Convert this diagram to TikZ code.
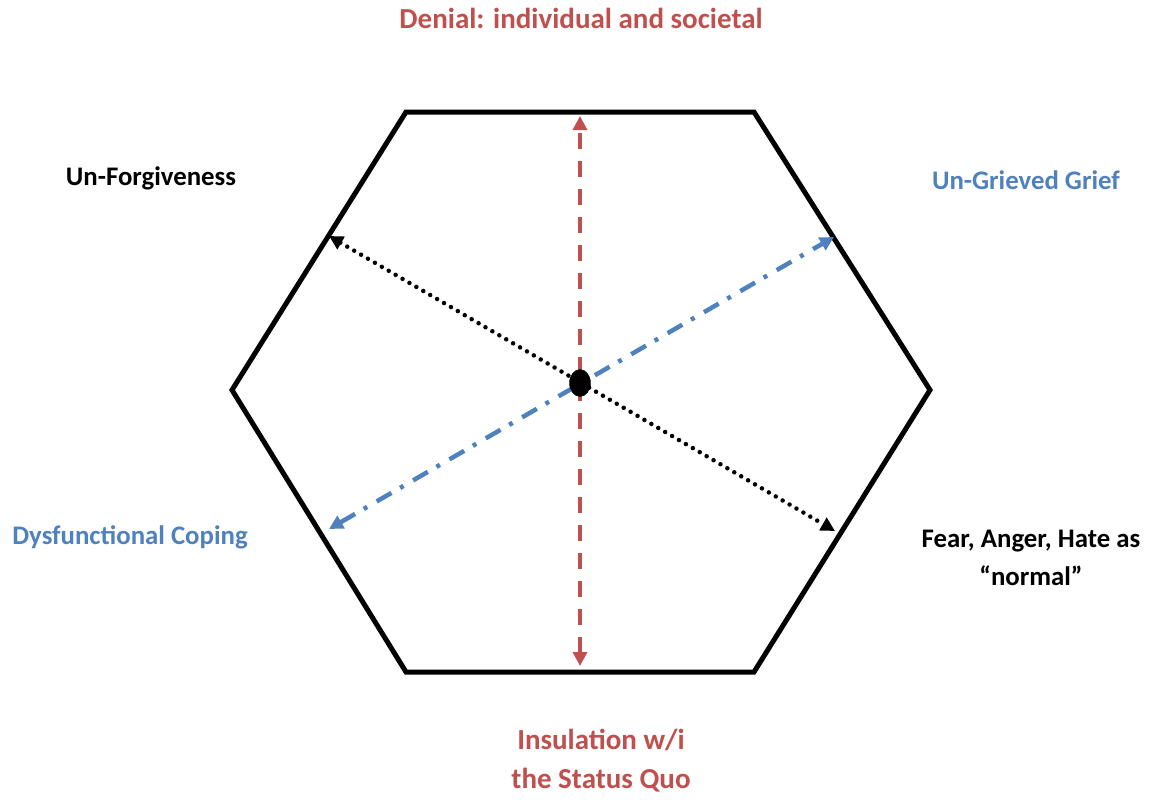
\documentclass[tikz,border=0pt]{standalone}
\usepackage{fontspec}
\setmainfont{Carlito}
\usetikzlibrary{arrows.meta,shapes.geometric}
\definecolor{ored}{HTML}{C0504D}
\definecolor{oblue}{HTML}{4F81BD}
\tikzset{
  lbl/.style={font=\bfseries\fontsize{29}{39}\selectfont, inner sep=0pt, align=center},
  slbl/.style={font=\bfseries\fontsize{26.8}{38}\selectfont, inner sep=0pt, align=center},
  hexline/.style={line width=5pt, line join=miter},
  ttip/.style={{Triangle[length=14pt,width=14pt]}-{Triangle[length=14pt,width=14pt]}}
}
\begin{document}
\begin{tikzpicture}[x=1pt,y=-1pt]
\useasboundingbox (0,0) rectangle (1152,800);
\coordinate (v1) at (406,112);
\coordinate (v2) at (754,112);
\coordinate (v3) at (930,390);
\coordinate (v4) at (754,672);
\coordinate (v5) at (406,672);
\coordinate (v6) at (232,390);
\draw[hexline] (v1) -- (v2) -- (v3) -- (v4) -- (v5) -- (v6) -- cycle;
\coordinate (c) at (580,383);
\coordinate (rt) at (580,116);
\coordinate (rb) at (580,666);
\coordinate (bl1) at (329,236);
\coordinate (bl2) at (835,531);
\coordinate (bu1) at (329,529);
\coordinate (bu2) at (834,237);
\draw[ored, line width=4.5pt, dash pattern=on 16pt off 12pt, ttip] (rb) -- (rt);
\draw[black, line width=4.5pt, dash pattern=on 0pt off 8pt, line cap=round, ttip] (bl1) -- (bl2);
\draw[oblue, line width=4.5pt, dash pattern=on 17pt off 10pt on 4pt off 11pt, ttip] (bu1) -- (bu2);
\node[draw=black, fill=black, ellipse, minimum width=21pt, minimum height=27pt, inner sep=0pt] (dot) at (c) {};
\node[lbl, text=ored] (den) at (581,18) {Denial: individual and societal};
\node[slbl, text=black] (unf) at (151,178) {Un-Forgiveness};
\node[slbl, text=oblue] (ung) at (1026,180) {Un-Grieved Grief};
\node[slbl, text=oblue] (dys) at (130,537) {Dysfunctional Coping};
\node[slbl, text=black, align=center] (fear) at (1031,558) {Fear, Anger, Hate as\\“normal”};
\node[lbl, text=ored, align=center] (ins) at (601,761) {Insulation w/i\\the Status Quo};
\end{tikzpicture}
\end{document}
